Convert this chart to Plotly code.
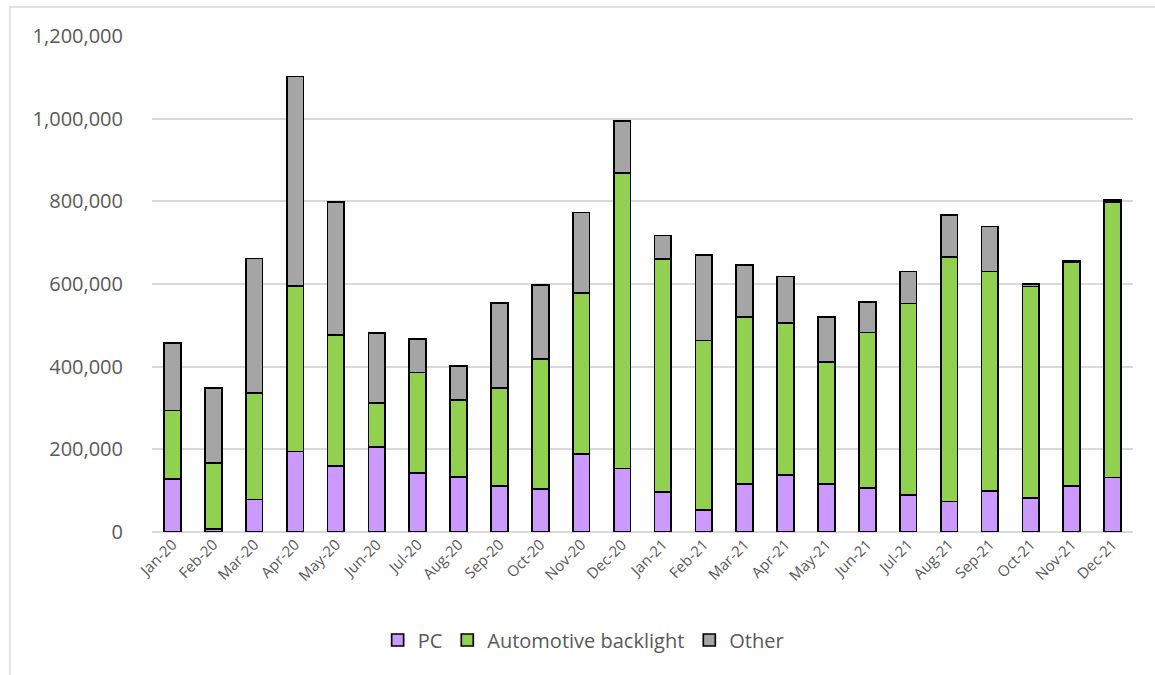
import plotly.graph_objects as go

months = ["Jan-20", "Feb-20", "Mar-20", "Apr-20", "May-20", "Jun-20", "Jul-20", "Aug-20",
          "Sep-20", "Oct-20", "Nov-20", "Dec-20", "Jan-21", "Feb-21", "Mar-21", "Apr-21",
          "May-21", "Jun-21", "Jul-21", "Aug-21", "Sep-21", "Oct-21", "Nov-21", "Dec-21"]

pc = [129000, 8000, 79000, 195000, 160000, 205000, 142000, 133000,
      112000, 104000, 188000, 154000, 97000, 54000, 116000, 138000,
      116000, 106000, 90000, 74000, 99000, 83000, 112000, 132000]

automotive_backlight = [165000, 159000, 257000, 401000, 317000, 107000, 244000, 187000,
                        237000, 315000, 390000, 714000, 564000, 409000, 404000, 368000,
                        295000, 377000, 463000, 591000, 531000, 511000, 540000, 667000]

other = [164000, 181000, 326000, 506000, 321000, 170000, 81000, 81000,
         205000, 178000, 195000, 126000, 56000, 208000, 126000, 112000,
         109000, 74000, 77000, 102000, 109000, 6000, 4000, 5000]

series = [
    ("PC", pc, "#CC99FF"),
    ("Automotive backlight", automotive_backlight, "#92D050"),
    ("Other", other, "#A5A5A5"),
]

fig = go.Figure()
for name, vals, color in series:
    fig.add_trace(go.Bar(
        x=months, y=vals, name=name,
        marker=dict(color=color, line=dict(color="#000000", width=1.7)),
    ))

W, H = 1155, 675
L, R, T, B = 152, 22, 36, 143
pw, ph = W - L - R, H - T - B

# Chart-area frame: left and top edges visible
fig.add_shape(type="rect", xref="paper", yref="paper",
              x0=(10 - L) / pw, x1=(W + 5 - L) / pw,
              y0=(H - B - (H + 5)) / ph, y1=(H - B - 7) / ph,
              line=dict(color="#D9D9D9", width=1.5), fillcolor="rgba(0,0,0,0)", layer="below")

fig.update_layout(
    width=W, height=H,
    barmode="stack", bargap=0.59,
    margin=dict(l=L, r=R, t=T, b=B),
    paper_bgcolor="white", plot_bgcolor="white",
    font=dict(family="Open Sans", color="#595959"),
    legend=dict(orientation="h", x=0.44, xanchor="center", y=(H - B - 640) / ph, yanchor="middle",
                font=dict(size=20, color="#595959"), traceorder="normal",
                itemwidth=30, tracegroupgap=0),
    xaxis=dict(tickangle=-45, tickfont=dict(size=15, color="#595959"),
               showgrid=False, showline=False, ticks=""),
    yaxis=dict(range=[0, 1200000], dtick=200000, tickformat=",",
               tickfont=dict(size=20, color="#595959"),
               showgrid=True, gridcolor="#D9D9D9", gridwidth=1.5,
               zeroline=True, zerolinecolor="#D9D9D9", zerolinewidth=1.5,
               showline=False, ticks="", ticklabelstandoff=28),
)

fig.write_html("out.html")
